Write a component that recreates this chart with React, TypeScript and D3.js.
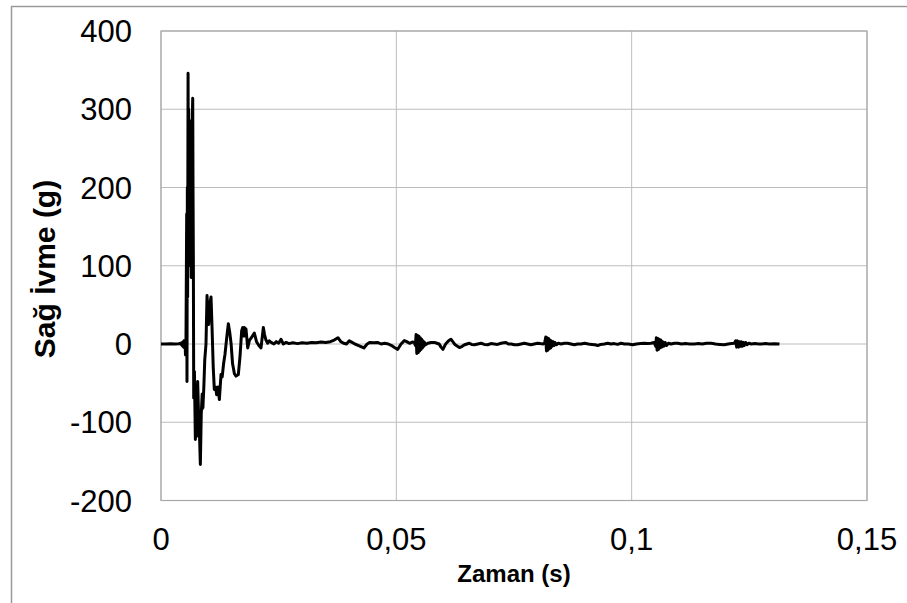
import React, { useRef, useEffect } from 'react';
import * as d3 from 'd3';

// x ticks (s), y ticks (g)
const xTicks = [0, 0.05, 0.1, 0.15];
const yTicks = [-200, -100, 0, 100, 200, 300, 400];

// [time ms, acceleration g]
const impactPhase: [number, number][] = [
  [0, 0], [1, 0], [2, 0.2], [3, 0], [3.8, 0.3], [4.2, 1], [4.4, -1.5], [4.5, 2], [4.6, -2.5], [4.7, 3],
  [4.8, -4], [4.9, 4], [5.0, -5], [5.1, 4], [5.2, -14], [5.3, -4],
  [5.46, 166], [5.52, -48], [5.6, 200], [5.66, 60], [5.75, 346], [5.82, 150], [5.88, 300], [5.95, 100],
  [6.02, 286], [6.1, 130], [6.18, 260], [6.26, 110], [6.34, 240], [6.42, 85], [6.5, 220], [6.58, 120],
  [6.66, 290], [6.74, 314], [6.8, 200], [6.88, 100], [6.95, -69], [7.1, -35], [7.3, -122], [7.45, -70],
  [7.6, -118], [7.79, -48], [8.0, -95], [8.2, -120], [8.36, -154], [8.55, -90], [8.75, -64], [8.9, -82],
  [9.1, -55], [9.3, -20], [9.56, 0], [9.78, 62], [9.95, 45], [10.13, 25], [10.35, 50], [10.63, 60],
  [10.85, 20], [11.1, -30], [11.33, -58], [11.6, -55], [11.83, -65], [12.1, -55], [12.4, -71],
  [12.75, -39], [13.0, -42], [13.3, -25], [13.6, -13],
];

const decayPhase: [number, number][] = [
  [14.0, 10], [14.31, 26], [14.6, 15], [14.9, 0], [15.2, -25], [15.6, -38], [15.94, -41], [16.43, -39],
  [16.8, -15], [17.14, 17], [17.36, 21], [17.6, 10], [17.71, 21], [18.06, 19], [18.42, -5], [18.8, 5],
  [19.2, 8], [19.83, 14], [20.3, 3], [20.8, -2], [21.25, -5], [21.74, 21], [22.0, 12], [22.3, 5],
  [22.67, 1], [23.0, 4], [23.4, 2], [24.0, 0], [24.5, 3], [25.0, 1], [25.5, 6], [26.0, 0], [26.6, 2],
  [27.2, 0.5], [28, 1.5], [29, 0.5], [30, 1.5], [31, 1], [32, 2], [33, 1.5], [34, 2.5], [35, 2], [36, 3],
  [36.8, 5], [37.6, 8], [38.2, 3], [38.8, 1], [39.4, 0], [40.0, 4], [40.6, 2], [41.2, 0], [42.0, -2],
  [43.1, -5], [43.8, 0], [44.4, 2], [45.2, 1.5], [46.0, 2], [46.75, 0], [47.5, 1], [48.3, 0], [49.0, -2],
  [49.6, -4.5], [50.3, -6.8], [51.0, 0], [51.7, 4.3], [52.2, 3], [52.8, 0.9], [53.4, 2.5], [53.8, 2],
];

const tailPhase: [number, number][] = [
  [54.05, -2], [54.2, 12], [54.35, -12], [54.5, 11], [54.65, -11], [54.8, 10], [54.95, -9], [55.1, 8],
  [55.25, -7], [55.4, 6], [55.55, -5], [55.7, 4], [55.85, -3], [56.0, 2], [56.2, -1], [56.7, 1],
  [57.4, 2], [58.1, 2], [58.6, 1], [59.1, 0], [59.5, -4], [59.9, -6.8], [60.3, -2], [60.6, 1], [61.1, 4],
  [61.6, 6], [62.0, 3], [62.5, -1], [63.0, -3], [63.4, -4.6], [64.0, -3], [64.5, -1], [65.0, 0],
  [65.5, 1], [66.0, -0.5], [66.6, -1], [67.3, 0], [68, 1], [68.7, -0.5], [69.4, -1], [70.1, 0.5],
  [70.8, 0], [71.5, -0.5], [72.25, 1], [72.8, 1.5], [73.3, 2], [73.8, 0], [74.4, 0], [75.1, -1],
  [75.8, -1], [76.5, 0], [77.2, 1], [77.9, 0], [78.6, -1], [79.3, 0], [80.0, 1], [80.6, 0.5], [81.1, 0],
  [81.5, 1], [81.75, 9], [81.9, -9], [82.05, 8], [82.2, -8], [82.35, 7], [82.5, -6], [82.65, 5],
  [82.8, -5], [82.95, 4], [83.1, -3], [83.3, 3], [83.5, -2], [83.7, 2], [84.0, -1], [84.4, 1], [85.0, 0],
  [85.7, 1], [86.4, 1], [87.1, 0], [87.8, -1], [88.5, 0], [89.25, 0], [90.0, 1], [90.8, 0], [91.5, -0.5],
  [92.2, -1], [92.8, -2], [93.4, -0.5], [94.2, 0], [94.9, 1], [95.6, 0], [96.3, 0.5], [97.0, -0.5],
  [97.75, 1], [98.5, 0], [99.3, 0], [100.2, -1], [101, 0], [101.9, 0.5], [102.7, 1], [103.4, 0.5],
  [104.1, 1], [104.8, 2], [105.1, -3], [105.25, 8], [105.4, -8], [105.55, 7], [105.7, -7], [105.85, 6],
  [106.0, -5], [106.2, 5], [106.4, -4], [106.6, 3], [106.8, -3], [107.1, 2], [107.4, -2], [107.8, 1],
  [108.4, 0], [109.1, 1], [109.8, 1], [110.6, 0], [111.4, 0.5], [112.3, 0], [113.3, 0], [114.2, 0.5],
  [115, 0], [115.9, 1], [116.9, 1], [117.8, 0], [118.7, -0.5], [119.7, -1], [120.5, 0], [121.2, 0.5],
  [121.8, 1], [122.1, 4], [122.3, -4], [122.5, 4], [122.7, -4], [122.9, 3], [123.1, -3], [123.3, 3],
  [123.5, -3], [123.7, 2], [123.9, -2], [124.2, 2], [124.5, -1], [124.9, 1], [125.4, 0], [126.2, 0.5],
  [127, 0], [127.5, 0], [128.4, 0.5], [129.3, 0], [130.3, 0.3], [131.4, 0],
];

const W = 907;
const H = 603;
const plot = { left: 161, right: 867, top: 31, bottom: 500.5 };
const font = 'Arial, "Liberation Sans", sans-serif';

const App = () => {
  const svgRef = useRef<SVGSVGElement>(null);

  useEffect(() => {
    const svg = d3.select(svgRef.current);
    svg.selectAll('*').remove();

    const x = d3.scaleLinear().domain([0, 0.15]).range([plot.left, plot.right]);
    const y = d3.scaleLinear().domain([-200, 400]).range([plot.bottom, plot.top]);

    // outer chart border (cropped)
    svg.append('line').attr('x1', 11.5).attr('x2', 11.5).attr('y1', 6).attr('y2', H)
      .attr('stroke', '#9a9a9a').attr('stroke-width', 1.5);
    svg.append('line').attr('x1', 11).attr('x2', W).attr('y1', 6.5).attr('y2', 6.5)
      .attr('stroke', '#9a9a9a').attr('stroke-width', 1.5);

    // gridlines
    svg.selectAll('.hgrid').data(yTicks).join('line')
      .attr('class', 'hgrid')
      .attr('x1', plot.left).attr('x2', plot.right)
      .attr('y1', (d) => y(d)).attr('y2', (d) => y(d))
      .attr('stroke', '#bdbdbd').attr('stroke-width', 1);
    svg.selectAll('.vgrid').data(xTicks).join('line')
      .attr('class', 'vgrid')
      .attr('x1', (d) => x(d)).attr('x2', (d) => x(d))
      .attr('y1', plot.top).attr('y2', plot.bottom)
      .attr('stroke', '#bdbdbd').attr('stroke-width', 1);

    svg.append('rect')
      .attr('x', plot.left).attr('y', plot.top)
      .attr('width', plot.right - plot.left).attr('height', plot.bottom - plot.top)
      .attr('fill', 'none').attr('stroke', '#a8a8a8').attr('stroke-width', 1.2);

    // tick labels
    svg.selectAll('.ylab').data(yTicks).join('text')
      .attr('class', 'ylab')
      .attr('x', 132).attr('y', (d) => y(d) + 11)
      .attr('text-anchor', 'end')
      .attr('font-family', font).attr('font-size', 31).attr('fill', '#000')
      .text((d) => String(d));
    svg.selectAll('.xlab').data(xTicks).join('text')
      .attr('class', 'xlab')
      .attr('x', (d) => x(d)).attr('y', 550)
      .attr('text-anchor', 'middle')
      .attr('font-family', font).attr('font-size', 31).attr('fill', '#000')
      .text((d) => String(d).replace('.', ','));

    // axis titles
    svg.append('text')
      .attr('transform', `translate(55,269) rotate(-90)`)
      .attr('text-anchor', 'middle')
      .attr('font-family', font).attr('font-size', 30).attr('font-weight', 'bold')
      .text('Sağ İvme (g)');
    svg.append('text')
      .attr('x', (plot.left + plot.right) / 2).attr('y', 582)
      .attr('text-anchor', 'middle')
      .attr('font-family', font).attr('font-size', 24).attr('font-weight', 'bold')
      .text('Zaman (s)');

    // signal
    const series = [...impactPhase, ...decayPhase, ...tailPhase];
    const lineGen = d3.line<[number, number]>()
      .x((d) => x(d[0] / 1000))
      .y((d) => y(d[1]));
    svg.append('path')
      .datum(series)
      .attr('d', lineGen)
      .attr('fill', 'none')
      .attr('stroke', '#000')
      .attr('stroke-width', 3)
      .attr('stroke-linejoin', 'round');
  }, []);

  return (
    <div style={{ position: 'absolute', left: 0, top: 0 }}>
      <svg ref={svgRef} width={W} height={H} style={{ display: 'block', background: '#fff' }} />
    </div>
  );
};

export default App;
